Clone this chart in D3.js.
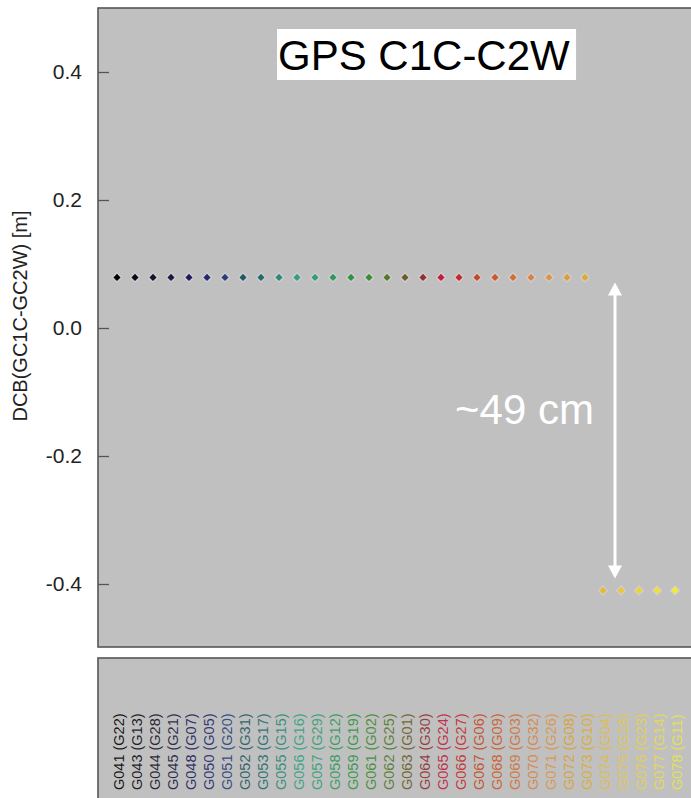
<!DOCTYPE html>
<html>
<head>
<meta charset="utf-8">
<script src="https://cdn.jsdelivr.net/npm/d3@7"></script>
<style>
  body { margin: 0; background: #fff; }
  svg { display: block; font-family: "Liberation Sans", Arial, sans-serif; }
</style>
</head>
<body>
<svg id="chart" width="691" height="798"></svg>
<script>
// satellite labels (PRN code + slot)
const sats = ["G041 (G22)", "G043 (G13)", "G044 (G28)", "G045 (G21)", "G048 (G07)", "G050 (G05)",
  "G051 (G20)", "G052 (G31)", "G053 (G17)", "G055 (G15)", "G056 (G16)", "G057 (G29)", "G058 (G12)",
  "G059 (G19)", "G061 (G02)", "G062 (G25)", "G063 (G01)", "G064 (G30)", "G065 (G24)", "G066 (G27)",
  "G067 (G06)", "G068 (G09)", "G069 (G03)", "G070 (G32)", "G071 (G26)", "G072 (G08)", "G073 (G10)",
  "G074 (G04)", "G075 (G18)", "G076 (G23)", "G077 (G14)", "G078 (G11)"];

// DCB values [m]
const dcb = [0.079, 0.079, 0.079, 0.079, 0.079, 0.079, 0.079, 0.079, 0.079, 0.079, 0.079, 0.079,
  0.079, 0.079, 0.079, 0.079, 0.079, 0.079, 0.079, 0.079, 0.079, 0.079, 0.079, 0.079, 0.079,
  0.079, 0.079, -0.410, -0.410, -0.410, -0.410, -0.410];

// one colour per satellite
const colors = ["#000000", "#0a0a14", "#141428", "#1a1a40", "#1c1c5a", "#202a6c", "#28407a", "#1e5a62",
  "#226c6c", "#2a8a76", "#30a080", "#30a070", "#2c9a58", "#2c9444", "#3a8c30", "#507a2a", "#6a5c22",
  "#903030", "#c01e3a", "#c42a2a", "#c44a22", "#cc5a28", "#d07034", "#d88440", "#dc9448", "#dca030",
  "#dcac30", "#e4bc30", "#e8c834", "#ecd434", "#f0e034", "#f0ec30"];

const yTicks = [-0.4, -0.2, 0.0, 0.2, 0.4];
const title = "GPS C1C-C2W";
const yLabel = "DCB(GC1C-GC2W) [m]";
const gapLabel = "~49 cm";

const data = sats.map((s, i) => ({ sat: s, value: dcb[i], color: colors[i] }));

const svg = d3.select("#chart");
const W = 691, H = 798;

// panel geometry (the plot runs off the right edge)
const panel = { left: 98, top: 8, bottom: 647 };
const labelPanel = { top: 658 };

const x = d3.scalePoint()
    .domain(sats)
    .range([117, 675]);

const y = d3.scaleLinear()
    .domain([-0.4, 0.4])
    .range([584, 72]);

// main panel
svg.append("rect")
    .attr("x", panel.left)
    .attr("y", panel.top)
    .attr("width", W - panel.left + 20)
    .attr("height", panel.bottom - panel.top)
    .attr("fill", "#c0c0c0")
    .attr("stroke", "#555")
    .attr("stroke-width", 1.6)

// label panel
svg.append("rect")
    .attr("x", panel.left)
    .attr("y", labelPanel.top)
    .attr("width", W - panel.left + 20)
    .attr("height", H - labelPanel.top + 20)
    .attr("fill", "#c0c0c0")
    .attr("stroke", "#555")
    .attr("stroke-width", 1.6)

// y axis, ticks pointing inward
const yAxis = svg.append("g")
    .attr("transform", "translate(" + panel.left + ",0)")
    .call(d3.axisLeft(y)
        .tickValues(yTicks)
        .tickSizeInner(-11)
        .tickSizeOuter(0)
        .tickPadding(16)
        .tickFormat(d => d.toFixed(1)))

yAxis.select(".domain").remove()
yAxis.selectAll(".tick line").attr("stroke", "#555").attr("stroke-width", 1.3)
yAxis.selectAll(".tick text")
    .attr("fill", "#222")
    .attr("font-size", 21)
    .style("font-family", "'Liberation Sans', Arial, sans-serif")

svg.append("text")
    .attr("transform", "translate(27," + 316 + ") rotate(-90)")
    .attr("text-anchor", "middle")
    .attr("font-size", 20)
    .attr("fill", "#222")
    .text(yLabel)

// title with white box
const titleBox = svg.append("rect").attr("fill", "#fff")
const titleText = svg.append("text")
    .attr("x", 278)
    .attr("y", 70)
    .attr("font-size", 42)
    .attr("fill", "#000")
    .text(title)
const tb = titleText.node().getBBox()
titleBox
    .attr("x", tb.x - 1)
    .attr("y", 29)
    .attr("width", tb.width + 7)
    .attr("height", 51)

// points
svg.append("g")
    .selectAll("path")
    .data(data)
    .join("path")
    .attr("d", d3.symbol(d3.symbolSquare, 26))
    .attr("transform", d => "translate(" + x(d.sat) + "," + y(d.value) + ") rotate(45)")
    .attr("fill", d => d.color)
    .attr("stroke", "rgba(240,225,240,0.4)")
    .attr("stroke-width", 2.5)
    .style("paint-order", "stroke")

// double arrow marking the offset between the two groups
const topVal = d3.max(dcb), botVal = d3.min(dcb);
const ax = (x(sats[27]) + x(sats[28])) / 2 + 3;
const y0 = y(topVal) + 5, y1 = y(botVal) - 12;
const head = 13, hw = 7;
svg.append("line")
    .attr("x1", ax).attr("x2", ax)
    .attr("y1", y0 + head - 2).attr("y2", y1 - head + 2)
    .attr("stroke", "#fff")
    .attr("stroke-width", 3)
svg.append("path")
    .attr("d", `M${ax},${y0} L${ax - hw},${y0 + head} L${ax + hw},${y0 + head} Z`)
    .attr("fill", "#fff")
svg.append("path")
    .attr("d", `M${ax},${y1} L${ax - hw},${y1 - head} L${ax + hw},${y1 - head} Z`)
    .attr("fill", "#fff")

svg.append("text")
    .attr("x", ax - 21)
    .attr("y", (y0 + y1) / 2 - 6)
    .attr("text-anchor", "end")
    .attr("font-size", 42)
    .attr("fill", "#fff")
    .text(gapLabel)

// rotated satellite labels in the lower panel
svg.append("g")
    .selectAll("text")
    .data(data)
    .join("text")
    .attr("transform", d => "translate(" + (x(d.sat) + 2) + ",790) rotate(-90)")
    .attr("dominant-baseline", "central")
    .attr("font-size", 14.5)
    .attr("fill", d => d.color)
    .attr("fill-opacity", (d, i) => i >= 27 ? 0.75 : 0.9)
    .text(d => d.sat)
</script>
</body>
</html>
